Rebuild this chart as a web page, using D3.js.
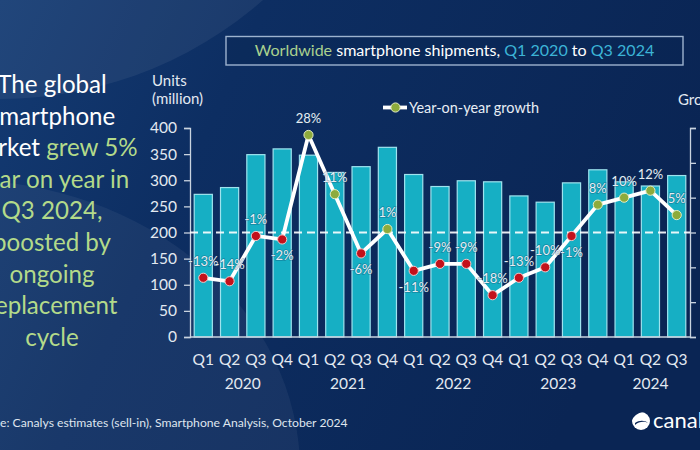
<!DOCTYPE html>
<html><head><meta charset="utf-8">
<script src="https://cdn.jsdelivr.net/npm/d3@7"></script>
<style>html,body{margin:0;padding:0;background:#0b2a5c;overflow:hidden}svg{display:block}</style>
</head><body><svg id="c" width="700" height="450"></svg>
<script>
const quarters = ["Q1","Q2","Q3","Q4","Q1","Q2","Q3","Q4","Q1","Q2","Q3","Q4","Q1","Q2","Q3","Q4","Q1","Q2","Q3"];
const years = ["2020","2020","2020","2020","2021","2021","2021","2021","2022","2022","2022","2022","2023","2023","2023","2023","2024","2024","2024"];
const yearLabels = ["2020","2021","2022","2023","2024"];
const shipments = [273,286,349,360,348,315,326,363,311,288,299,297,270,258,295,320,297,289,309];
const growth = [-13,-14,-1,-2,28,11,-6,1,-11,-9,-9,-18,-13,-10,-1,8,10,12,5];
const growthLabelSide = ["above","above","above","below","above","above","below","above","below","above","above","above","above","above","below","above","above","above","above"];
const unitTicks = [0,50,100,150,200,250,300,350,400];
const growthTicks = [-30,-20,-10,0,10,20,30];
const headline = [
  [["The global","w"]],
  [["smartphone","w"]],
  [["market ","w"],["grew 5%","g"]],
  [["year on year in","g"]],
  [["Q3 2024,","g"]],
  [["boosted by","g"]],
  [["ongoing","g"]],
  [["replacement","g"]],
  [["cycle","g"]]
];
const titleParts = [["Worldwide ","#a9d18e"],["smartphone shipments, ","#ffffff"],["Q1 2020","#3cb4d6"],[" to ","#ffffff"],["Q3 2024","#3cb4d6"]];
const sourceText = "Source: Canalys estimates (sell-in), Smartphone Analysis, October 2024";

const FONT = "Lato, 'Open Sans', sans-serif";
const svg = d3.select("#c").attr("font-family", FONT);
const W = 700, H = 450;

// background
const defs = svg.append("defs");
const bg = defs.append("linearGradient").attr("id","bg").attr("x1",0).attr("y1",0).attr("x2",1).attr("y2",0.3);
bg.append("stop").attr("offset",0).attr("stop-color","#143b73");
bg.append("stop").attr("offset",0.35).attr("stop-color","#0d2e62");
bg.append("stop").attr("offset",1).attr("stop-color","#0a2554");
svg.append("rect").attr("width",W).attr("height",H).attr("fill","url(#bg)");
svg.append("circle").attr("cx",0).attr("cy",-300).attr("r",399).attr("fill","#ffffff").attr("opacity",0.06);
svg.append("ellipse").attr("cx",-40).attr("cy",470).attr("rx",340).attr("ry",290).attr("fill","#ffffff").attr("opacity",0.05);

// scales
const idx = d3.range(quarters.length);
const x = d3.scaleBand().domain(idx).range([190,690]).paddingInner(0.31).paddingOuter(0.16);
const y = d3.scaleLinear().domain([0,400]).range([337,128]);
const y2 = d3.scaleLinear().domain([-30,30]).range([337,128]);

// bars
svg.append("g").selectAll("rect").data(idx).join("rect")
  .attr("x", i => x(i)).attr("width", x.bandwidth())
  .attr("y", i => y(shipments[i])).attr("height", i => y(0) - y(shipments[i]))
  .attr("fill", "#16afc4").attr("stroke", "#9fe3ee").attr("stroke-width", 1.2);

// axes
const axisColor = "#c9d3df";
const gl = svg.append("g").attr("transform","translate(190,0)")
  .call(d3.axisLeft(y).tickValues(unitTicks).tickSize(6).tickPadding(7));
const gr = svg.append("g").attr("transform","translate(690,0)")
  .call(d3.axisRight(y2).tickValues(growthTicks).tickSize(6).tickFormat(""));
const gb = svg.append("g").attr("transform","translate(0,337)")
  .call(d3.axisBottom(x).tickSize(0).tickPadding(17).tickFormat(i => quarters[i]));
gb.select(".domain").attr("d","M190,0H690");
[gl,gr,gb].forEach(g => {
  g.selectAll("path,line").attr("stroke", axisColor).attr("stroke-width",1.3);
  g.selectAll("text").attr("fill","#e3e9f1").attr("font-family",FONT);
});
gl.selectAll("text").attr("font-size",15.5);
gb.selectAll("text").attr("font-size",15.5);

// years
svg.append("g").selectAll("text").data(yearLabels).join("text")
  .attr("x", yr => { const ii = idx.filter(i => years[i] === yr); return (x(ii[0]) + x(ii[ii.length-1]) + x.bandwidth())/2; })
  .attr("y", 389).attr("text-anchor","middle").attr("font-size",15.5).attr("fill","#e3e9f1").text(d => d);

// zero growth dashed line
svg.append("line").attr("x1",190).attr("x2",690).attr("y1",y2(0)).attr("y2",y2(0))
  .attr("stroke","#ffffff").attr("stroke-width",1.8).attr("stroke-dasharray","8,5").attr("opacity",0.9);

// growth line
const cx = i => x(i) + x.bandwidth()/2;
svg.append("path").datum(idx)
  .attr("d", d3.line().x(cx).y(i => y2(growth[i])))
  .attr("fill","none").attr("stroke","#ffffff").attr("stroke-width",3.8).attr("stroke-linejoin","round");
svg.append("g").selectAll("circle").data(idx).join("circle")
  .attr("cx", cx).attr("cy", i => y2(growth[i])).attr("r", 4.6)
  .attr("fill", i => growth[i] < 0 ? "#c3111b" : "#8dab3c")
  .attr("stroke", i => growth[i] < 0 ? "#f3c9c9" : "#e4edc4").attr("stroke-width",1);
svg.append("g").selectAll("text").data(idx).join("text")
  .attr("x", cx)
  .attr("y", i => y2(growth[i]) + (growthLabelSide[i] === "above" ? -12 : 21))
  .attr("text-anchor","middle").attr("font-size",13).attr("fill","#e6edf3")
  .attr("stroke","#0d3a5e").attr("stroke-width",1.5).attr("stroke-opacity",0.35).attr("paint-order","stroke")
  .text(i => growth[i] + "%");

// legend
svg.append("line").attr("x1",383).attr("x2",407).attr("y1",107.5).attr("y2",107.5).attr("stroke","#fff").attr("stroke-width",3.8);
svg.append("circle").attr("cx",395.5).attr("cy",107.5).attr("r",4.6).attr("fill","#8dab3c").attr("stroke","#e4edc4").attr("stroke-width",1);
const leg = svg.append("text").attr("x",409).attr("y",112.5).attr("font-size",15).attr("fill","#e8eef5").text("Year-on-year growth");

function fit(sel, w) {
  const cur = parseFloat(sel.attr("font-size"));
  const len = sel.node().getComputedTextLength();
  sel.attr("font-size", cur * w / len);
}
fit(leg, 130);

// axis titles
svg.append("text").attr("x",152).attr("y",86).attr("font-size",15).attr("fill","#e3e9f1").text("Units");
svg.append("text").attr("x",152).attr("y",104).attr("font-size",15).attr("fill","#e3e9f1").text("(million)");
svg.append("text").attr("x",678).attr("y",105).attr("font-size",15).attr("fill","#e3e9f1").text("Growth");

// title box
svg.append("rect").attr("x",226).attr("y",36.5).attr("width",457).attr("height",28.5)
  .attr("fill","#0a2450").attr("fill-opacity",0.35).attr("stroke","#9db3cf").attr("stroke-width",1.4);
const title = svg.append("text").attr("x",454.5).attr("y",56).attr("text-anchor","middle").attr("font-size",16);
title.selectAll("tspan").data(titleParts).join("tspan").attr("fill", d => d[1]).text(d => d[0]);
fit(title, 400);

// headline
const hl = svg.append("g");
const lines = hl.selectAll("text").data(headline).join("text")
  .attr("x",52).attr("y",(d,i) => 93 + i*31.6).attr("text-anchor","middle").attr("font-size",26);
lines.selectAll("tspan").data(d => d).join("tspan")
  .attr("fill", d => d[1] === "w" ? "#ffffff" : "#b3da8a").text(d => d[0]);
{
  const ong = lines.filter((d,i) => i === 6);
  const f = 85 / ong.node().getComputedTextLength();
  lines.attr("font-size", 26 * f);
}

// source
const src = svg.append("text").attr("y",427).attr("font-size",13).attr("fill","#dfe5ee").text(sourceText);
{
  const n = src.node();
  const vis = n.getSubStringLength(5, sourceText.length - 5);
  src.attr("font-size", 13 * 348 / vis);
  const pre = n.getSubStringLength(0, 5);
  src.attr("x", -pre);
}

// logo
const logo = svg.append("g").attr("transform","translate(641,421)");
logo.append("circle").attr("r",9).attr("fill","#ffffff");
logo.append("path").attr("d","M-9,-1 C-5,-9 5,-11 10,-7 L10,-12 L-10,-12 Z").attr("fill","#0a2554");
logo.append("path").attr("d","M-6,2 C-2,-1 4,-1 7,2 C4,0 -2,0 -6,4 Z").attr("fill","#0a2554");
svg.append("text").attr("x",653).attr("y",428).attr("font-size",22).attr("fill","#ffffff").text("canalys");
</script></body></html>
